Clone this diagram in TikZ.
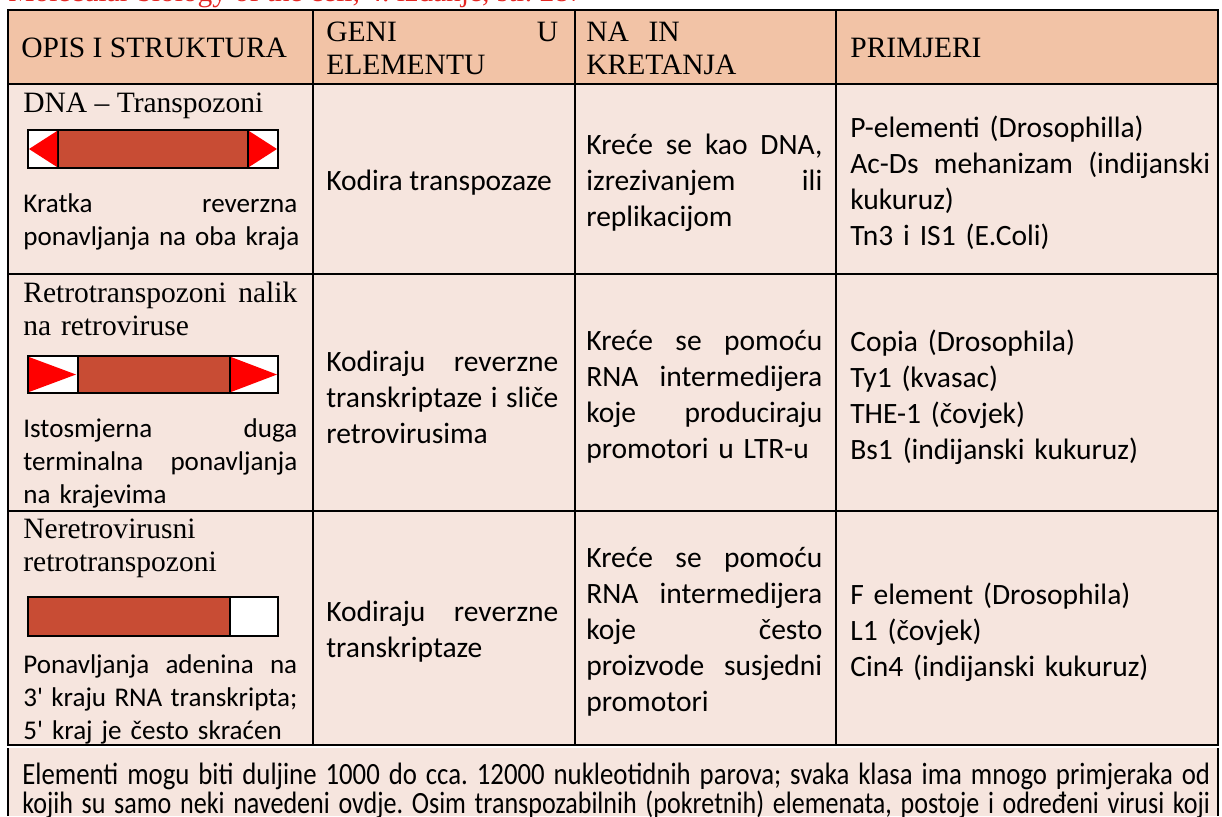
\documentclass[tikz,border=0pt]{standalone}
\usepackage{fontspec}
\usepackage{graphicx}
\setmainfont{Liberation Serif}
\newfontfamily\calibri{Carlito}[Ligatures=TeXOff]
\frenchspacing
\definecolor{headfill}{RGB}{242,195,166}
\definecolor{bodyfill}{RGB}{246,229,222}
\definecolor{barred}{RGB}{200,76,52}
\definecolor{tipred}{RGB}{255,0,0}
\definecolor{srcred}{RGB}{228,40,36}
% one justified line of a cell
\newcommand{\jl}[2][5.48cm]{\makebox[#1][s]{\spaceskip=0pt\xspaceskip=0pt #2}}

\begin{document}
\begin{tikzpicture}[x=0.02cm,y=-0.02cm,
  head/.style={anchor=base west,inner sep=0pt,font=\fontsize{16.8}{19}\selectfont},
  note/.style={anchor=base west,inner sep=0pt,text width=5.8cm,font=\calibri\fontsize{15.4}{18.8}\selectfont},
  cell/.style={anchor=west,inner sep=0pt,font=\calibri\fontsize{16.8}{20.5}\selectfont},
  rule/.style={line width=0.8pt},
  bar/.style={line width=0.6pt}]
  \useasboundingbox (0,0) rectangle (1222,816);

  % source line, cut by the top edge
  \node[head,text=srcred] (src) at (8,1) {Molecular biology of the cell, 4. izdanje, str. 287};

  % backgrounds
  \fill[headfill] (8,10) rectangle (1218,84);
  \fill[bodyfill] (8,84) rectangle (1218,745);
  \fill[bodyfill] (8,748) rectangle (1218,816);

  % grid
  \draw[rule] (8,10) rectangle (1218,745);
  \draw[rule] (8,84) -- (1218,84);
  \draw[rule] (8,274) -- (1218,274);
  \draw[rule] (8,511) -- (1218,511);
  \draw[rule] (313,10) -- (313,745);
  \draw[rule] (575,10) -- (575,745);
  \draw[rule] (836,10) -- (836,745);
  \draw[rule] (8,748) -- (8,816);
  \draw[rule] (1218,748) -- (1218,816);

  % header
  \node[head] (hOpis) at (21,57) {OPIS I STRUKTURA};
  \node[head,text width=4.64cm] (hGeni) at (326,41) {\jl[4.64cm]{GENI U}\\ELEMENTU};
  \node[head,text width=4.72cm] (hNain) at (586,41) {NA\ \ IN\\KRETANJA};
  \node[head] (hPrim) at (850,57) {PRIMJERI};

  % row 1
  \node[head] (t1) at (23,112) {DNA \textendash\ Transpozoni};
  \draw[bar,fill=white] (28,130) rectangle (278,168);
  \draw[bar,fill=barred] (58,130) rectangle (248,168);
  \fill[tipred] (57,131) -- (57,167) -- (29,149) -- cycle;
  \fill[tipred] (249,131) -- (249,167) -- (277,149) -- cycle;
  \node[note] (d1) at (23,212) {\jl{Kratka reverzna}\\ponavljanja na oba kraja};
  \node[cell] (c12) at (326,183) {Kodira transpozaze};
  \node[cell,text width=4.72cm] (c13) at (586,183) {\jl[4.72cm]{Kreće se kao DNA,}\\\jl[4.72cm]{izrezivanjem ili}\\replikacijom};
  \node[cell,text width=7.2cm] (c14) at (850,183) {P-elementi (Drosophilla)\\\jl[7.2cm]{Ac-Ds mehanizam (indijanski}\\kukuruz)\\Tn3 i IS1 (E.Coli)};

  % row 2
  \node[head,text width=5.48cm] (t2) at (23,302) {\jl{Retrotranspozoni nalik}\\na retroviruse};
  \draw[bar,fill=white] (28,356) rectangle (278,393);
  \draw[bar,fill=barred] (78,356) rectangle (230,393);
  \fill[tipred] (29,357) -- (29,392) -- (76,374.5) -- cycle;
  \fill[tipred] (231,357) -- (231,392) -- (277,374.5) -- cycle;
  \node[note] (d2) at (23,437) {\jl{Istosmjerna duga}\\\jl{terminalna ponavljanja}\\na krajevima};
  \node[cell,text width=4.64cm] (c22) at (326,397) {\jl[4.64cm]{Kodiraju reverzne}\\\jl[4.64cm]{transkriptaze i sliče}\\retrovirusima};
  \node[cell,text width=4.72cm] (c23) at (586,397) {\jl[4.72cm]{Kreće se pomoću}\\\jl[4.72cm]{RNA intermedijera}\\\jl[4.72cm]{koje produciraju}\\promotori u LTR-u};
  \node[cell,text width=7.2cm] (c24) at (850,397) {Copia (Drosophila)\\Ty1 (kvasac)\\THE-1 (čovjek)\\Bs1 (indijanski kukuruz)};

  % row 3
  \node[head,text width=5.48cm] (t3) at (23,538) {Neretrovirusni\\retrotranspozoni};
  \draw[bar,fill=white] (28,597) rectangle (278,636);
  \draw[bar,fill=barred] (28,597) rectangle (230,636);
  \node[note] (d3) at (23,673) {\jl{Ponavljanja adenina na}\\\jl{3' kraju RNA transkripta;}\\5' kraj je često skraćen};
  \node[cell,text width=4.64cm] (c32) at (326,632) {\jl[4.64cm]{Kodiraju reverzne}\\transkriptaze};
  \node[cell,text width=4.72cm] (c33) at (586,632) {\jl[4.72cm]{Kreće se pomoću}\\\jl[4.72cm]{RNA intermedijera}\\\jl[4.72cm]{koje često}\\\jl[4.72cm]{proizvode susjedni}\\promotori};
  \node[cell,text width=7.2cm] (c34) at (850,632) {F element (Drosophila)\\L1 (čovjek)\\Cin4 (indijanski kukuruz)};

  % note below the table
  \node[note,text width=23.76cm,font=\calibri\fontsize{17.6}{20}\selectfont] (n1) at (22,784) {\resizebox{23.76cm}{\height}{Elementi mogu biti duljine 1000 do cca. 12000 nukleotidnih parova; svaka klasa ima mnogo primjeraka od}};
  \node[note,text width=23.76cm,font=\calibri\fontsize{17.6}{20}\selectfont] (n2) at (22,813) {\resizebox{23.76cm}{\height}{kojih su samo neki navedeni ovdje. Osim transpozabilnih (pokretnih) elemenata, postoje i određeni virusi koji}};
\end{tikzpicture}
\end{document}
